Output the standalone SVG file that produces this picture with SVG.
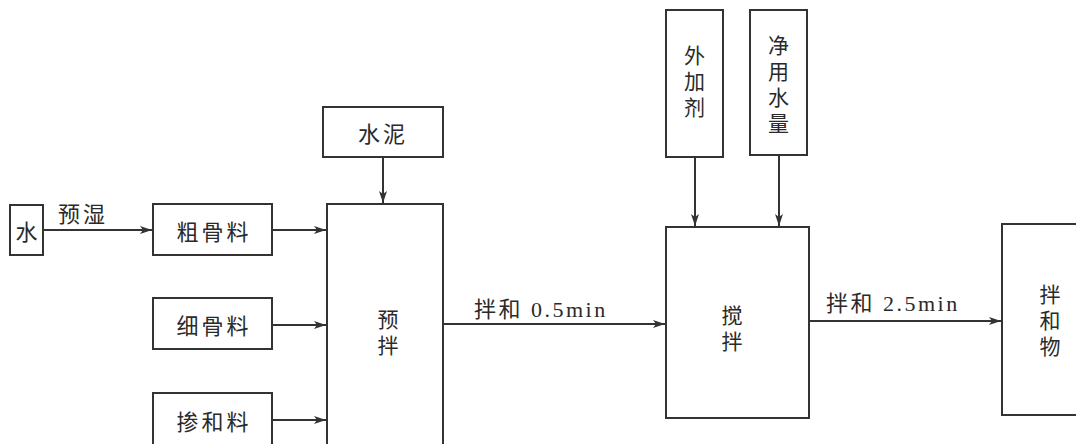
<svg xmlns="http://www.w3.org/2000/svg" width="1076" height="444" viewBox="0 0 1076 444">
<defs>
<marker id="arr" viewBox="0 0 12 8" refX="12" refY="4" markerWidth="12" markerHeight="8" markerUnits="userSpaceOnUse" orient="auto">
<path d="M0,0 L12,4 L0,8 L3,4 Z" fill="#333"/>
</marker>
<style>
.box{fill:#fff;stroke:#333;stroke-width:2}
.t{font-family:"Noto Sans CJK SC",sans-serif;font-size:22px;fill:#2a2a2a;text-anchor:middle;dominant-baseline:central}
.h{letter-spacing:3px}
.v{font-family:"Noto Sans CJK SC",sans-serif;font-size:21px;fill:#2a2a2a;text-anchor:middle;writing-mode:vertical-rl;letter-spacing:5px}
.l{font-family:"Liberation Serif","Noto Sans CJK SC",serif;font-size:22px;fill:#2a2a2a}
.ls{letter-spacing:2.5px}
.c{stroke:#333;stroke-width:2;fill:none;marker-end:url(#arr)}
</style>
</defs>
<rect width="1076" height="444" fill="#fff"/>
<g id="connectors">
<line class="c" x1="43" y1="230" x2="152" y2="230"/>
<text class="l" x="58" y="222" style="letter-spacing:3px;font-family:'Noto Sans CJK SC',sans-serif">预湿</text>
<line class="c" x1="272" y1="230" x2="326" y2="230"/>
<line class="c" x1="272" y1="325" x2="326" y2="325"/>
<line class="c" x1="272" y1="420" x2="326" y2="420"/>
<line class="c" x1="383" y1="157" x2="383" y2="203"/>
<line class="c" x1="443" y1="324" x2="665" y2="324"/>
<text class="l ls" x="474" y="317">拌和 0.5min</text>
<line class="c" x1="695" y1="157" x2="695" y2="226"/>
<line class="c" x1="779" y1="155" x2="779" y2="226"/>
<line class="c" x1="809" y1="321" x2="1001" y2="321"/>
<text class="l ls" x="826" y="311">拌和 2.5min</text>
</g>
<g id="n-water"><rect class="box" x="10" y="205" width="33" height="50"/><text class="t" x="26.5" y="230">水</text></g>
<g id="n-coarse"><rect class="box" x="153" y="204" width="119" height="51"/><text class="t h" x="214" y="230">粗骨料</text></g>
<g id="n-fine"><rect class="box" x="153" y="298" width="119" height="51"/><text class="t h" x="214" y="324">细骨料</text></g>
<g id="n-admix"><rect class="box" x="153" y="393" width="119" height="60"/><text class="t h" x="214" y="420">掺和料</text></g>
<g id="n-cement"><rect class="box" x="323" y="107" width="120" height="50"/><text class="t h" x="383" y="132">水泥</text></g>
<g id="n-premix"><rect class="box" x="327" y="204" width="116" height="250"/><text class="v" x="388" y="335">预拌</text></g>
<g id="n-additive"><rect class="box" x="666" y="10" width="57" height="147"/><text class="v" x="694.5" y="84">外加剂</text></g>
<g id="n-netwater"><rect class="box" x="750" y="10" width="57" height="145"/><text class="v" x="778.5" y="87">净用水量</text></g>
<g id="n-mix"><rect class="box" x="666" y="227" width="143" height="191"/><text class="v" x="732" y="331">搅拌</text></g>
<g id="n-product"><rect class="box" x="1002" y="224" width="90" height="191"/><text class="v" x="1050" y="323">拌和物</text></g>
</svg>
